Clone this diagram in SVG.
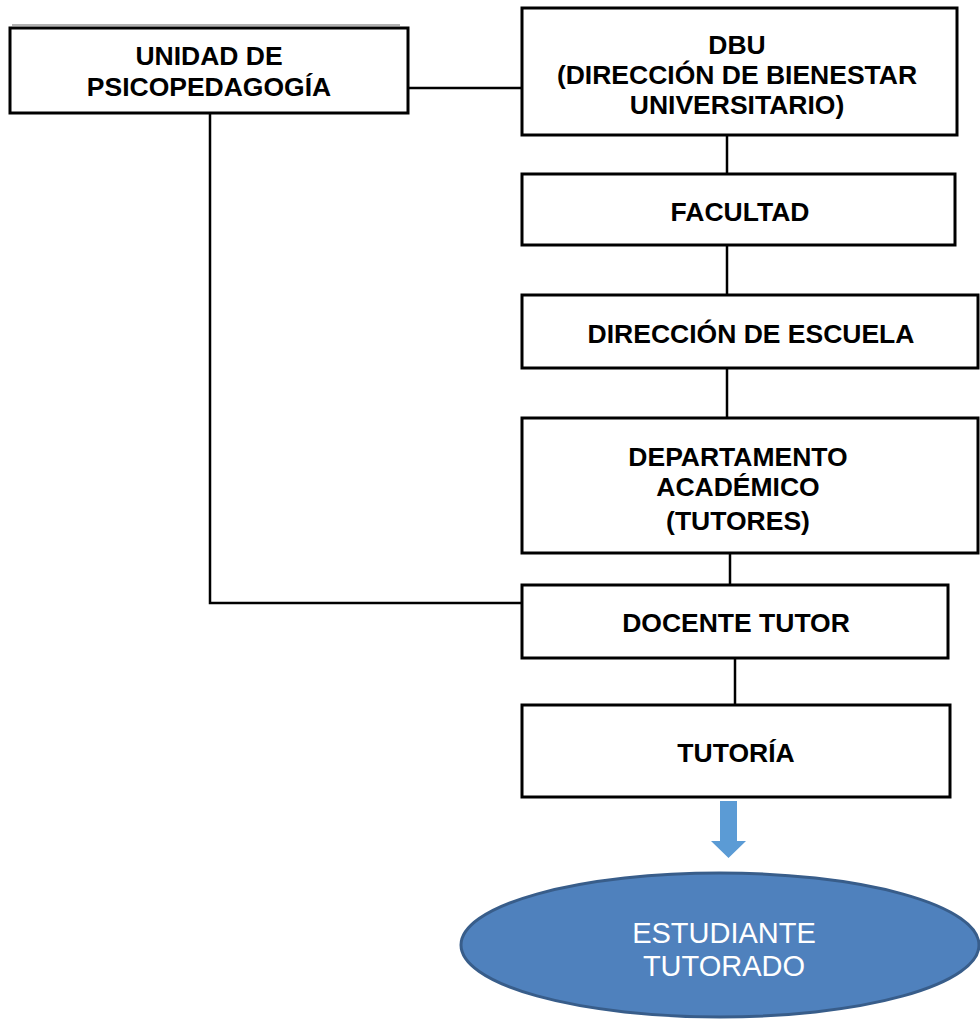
<svg xmlns="http://www.w3.org/2000/svg" width="980" height="1021" viewBox="0 0 980 1021">
<style>
.box{fill:#fff;stroke:#000;stroke-width:3}
.lbl{font-family:"Liberation Sans",Arial,sans-serif;font-weight:bold;font-size:26.5px;fill:#000;text-anchor:middle}
.con{fill:none;stroke:#000;stroke-width:2.5}
.wl{font-family:"Liberation Sans",Arial,sans-serif;font-size:29px;fill:#fff;text-anchor:middle}
</style>
<rect width="980" height="1021" fill="#fff"/>
<g id="connectors">
<line x1="12" y1="25" x2="400" y2="25" stroke="#999" stroke-width="1.5"/>
<path class="con" d="M408 88 H522" stroke="#333"/>
<path class="con" d="M210 113 V603 H522" stroke="#333"/>
<path class="con" d="M727 135 V174"/>
<path class="con" d="M727 245 V295"/>
<path class="con" d="M727 368 V418"/>
<path class="con" d="M730 553 V585"/>
<path class="con" d="M735 658 V705"/>
</g>
<g id="unidad">
<rect class="box" x="10" y="28" width="398" height="85"/>
<text class="lbl" x="209" y="64.5">UNIDAD DE</text>
<text class="lbl" x="209" y="95.5">PSICOPEDAGOGÍA</text>
</g>
<g id="dbu">
<rect class="box" x="522" y="8" width="435" height="127"/>
<text class="lbl" x="737" y="53.5">DBU</text>
<text class="lbl" x="737" y="83.5">(DIRECCIÓN DE BIENESTAR</text>
<text class="lbl" x="737" y="113.5">UNIVERSITARIO)</text>
</g>
<g id="facultad">
<rect class="box" x="522" y="174" width="433" height="71"/>
<text class="lbl" x="740" y="220.5">FACULTAD</text>
</g>
<g id="escuela">
<rect class="box" x="522" y="295" width="456" height="73"/>
<text class="lbl" x="751" y="342.5">DIRECCIÓN DE ESCUELA</text>
</g>
<g id="departamento">
<rect class="box" x="522" y="418" width="456" height="135"/>
<text class="lbl" x="738" y="465.5">DEPARTAMENTO</text>
<text class="lbl" x="738" y="495.5">ACADÉMICO</text>
<text class="lbl" x="738" y="529.5">(TUTORES)</text>
</g>
<g id="docente">
<rect class="box" x="522" y="585" width="426" height="73"/>
<text class="lbl" x="736" y="631.5">DOCENTE TUTOR</text>
</g>
<g id="tutoria">
<rect class="box" x="522" y="705" width="428" height="92"/>
<text class="lbl" x="736" y="761.5">TUTORÍA</text>
</g>
<g id="arrow">
<path d="M720 801 H737 V841 H746 L728.5 858 L711 841 H720 Z" fill="#5B9BD5"/>
</g>
<g id="estudiante">
<ellipse cx="720" cy="945" rx="259" ry="72" fill="#4F81BD" stroke="#385D8A" stroke-width="3"/>
<text class="wl" x="724" y="942.5">ESTUDIANTE</text>
<text class="wl" x="724" y="975.5">TUTORADO</text>
</g>
</svg>
